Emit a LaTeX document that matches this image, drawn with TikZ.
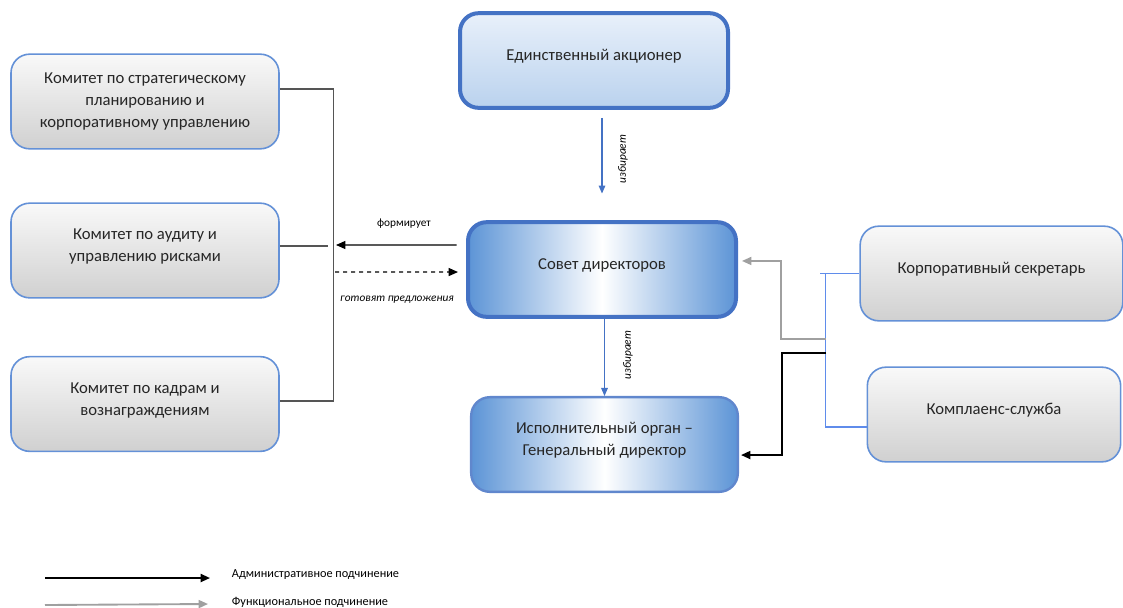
\documentclass[tikz,border=0pt]{standalone}
\usepackage{fontspec}
\setmainfont{Carlito}
\usetikzlibrary{arrows.meta}

\definecolor{edgeBlue}{RGB}{100,145,215}
\definecolor{busBlue}{RGB}{95,140,235}
\definecolor{darkBlue}{RGB}{68,114,196}
\definecolor{midBlue}{RGB}{92,148,214}
\definecolor{paleTop}{RGB}{232,240,250}
\definecolor{paleBot}{RGB}{186,210,238}
\definecolor{grayTop}{RGB}{249,249,249}
\definecolor{grayBot}{RGB}{208,208,208}
\definecolor{lineGray}{RGB}{85,85,85}
\definecolor{funcGray}{RGB}{160,160,160}

\tikzset{
  every picture/.style={line width=0.75pt},
  box/.style={rounded corners=14pt, align=center, minimum height=71pt,
    font=\fontsize{12.5}{16.5}\selectfont, text=black!85},
  lift/.style={text depth=8pt},
  commbox/.style={box, draw=edgeBlue, line width=1.2pt, top color=grayTop, bottom color=grayBot,
    minimum width=201pt},
  mainbox/.style={box, draw=darkBlue, line width=3pt, minimum width=201pt},
  glowfill/.style={left color=midBlue, right color=midBlue, middle color=white},
  small/.style={font=\fontsize{8.5}{10}\selectfont},
  elects/.style={draw=darkBlue, line width=0.8pt, -{Triangle[length=6pt,width=5pt]}},
  adm/.style={draw=black, line width=1.4pt, -{Triangle[length=7pt,width=6pt]}},
  func/.style={draw=funcGray, line width=1.4pt, -{Triangle[length=7pt,width=6pt]}},
}

\begin{document}
\begin{tikzpicture}[x=0.75pt,y=0.75pt,yscale=-1,xscale=1]
\useasboundingbox (0,0) rectangle (1123,607);

% committees
\node[commbox] (stratCom) at (145,101.5) {Комитет по стратегическому\\ планированию и\\ корпоративному управлению};
\node[commbox, lift] (auditCom) at (145,250.5) {Комитет по аудиту и\\ управлению рисками};
\node[commbox, lift] (staffCom) at (145,404) {Комитет по кадрам и\\ вознаграждениям};

% governing bodies
\node[mainbox, lift, top color=paleTop, bottom color=paleBot] (owner) at (594,60.5) {Единственный акционер};
\node[mainbox, lift, glowfill] (board) at (602,269.5) {Совет директоров};
\node[box, lift, draw=darkBlue!85, line width=1.8pt, glowfill, minimum width=200pt] (ceo) at (604.5,444.5) {Исполнительный орган –\\ Генеральный директор};

% staff units
\node[commbox, lift, minimum width=197pt] (secretary) at (991.5,273.5) {Корпоративный секретарь};
\node[commbox, lift, minimum width=190pt] (compliance) at (994,414.5) {Комплаенс-служба};

%Straight Lines: committee bracket
\draw[lineGray, line width=0.9pt] ([yshift=-9.4pt]stratCom.east) -- ++(54,0) |- ([yshift=-2.2pt]staffCom.east);
\draw[lineGray, line width=0.9pt] ([yshift=-3.4pt]auditCom.east) -- ++(48,0);

%Straight Lines: board <-> committees
\coordinate (formEnd) at (336,245);
\coordinate (propStart) at (335,272);
\draw[draw=black, line width=0.9pt, -{Triangle[length=7pt,width=6pt]}, shorten <=7pt] ([yshift=-18.4pt]board.west) -- (formEnd);
\draw[draw=black, line width=0.9pt, dashed, -{Triangle[length=7pt,width=6pt]}, shorten >=6pt] (propStart) -- ([yshift=1.9pt]board.west);
\node[small] (formLbl) at (404,224) {формирует};
\node[small, font=\fontsize{8.5}{10}\selectfont\itshape] (propLbl) at (397,300) {готовят предложения};

%Straight Lines: elections
\draw[elects, shorten <=6pt, shorten >=20pt] (owner.south -| board.north) -- (board.north);
\node[small, font=\fontsize{8.5}{10}\selectfont\itshape, rotate=90] (elect1) at (623,159) {избирает};
\draw[elects] (board.south -| ceo.north) -- (ceo.north);
\node[small, font=\fontsize{8.5}{10}\selectfont\itshape, rotate=90] (elect2) at (628,355) {избирает};

%Straight Lines: staff bus
\draw[busBlue, line width=1pt] (secretary.west) -- ++(-39,0);
\draw[busBlue, line width=1pt] (secretary.west) ++(-34,0) |- ([yshift=9.4pt]compliance.west);
\coordinate (busFunc) at (826,339);
\coordinate (busAdm) at (826,353);
\draw[func, line width=1.2pt] (busFunc) -- ++(-45,0) |- ([xshift=3pt,yshift=-6.4pt]board.east);
\draw[adm] (busAdm) -- ++(-44,0) |- ([xshift=1.5pt,yshift=7.9pt]ceo.east);

% legend
\coordinate (admA) at (45,578);
\coordinate (admB) at (210,578);
\coordinate (funcA) at (45,605);
\coordinate (funcB) at (208,604);
\draw[adm] (admA) -- (admB);
\draw[func] (funcA) -- (funcB);
\node[small, anchor=west, font=\fontsize{9.2}{11}\selectfont] (admLbl) at (227,575) {Административное подчинение};
\node[small, anchor=west, font=\fontsize{9.2}{11}\selectfont] (funcLbl) at (227,602) {Функциональное подчинение};
\end{tikzpicture}
\end{document}
